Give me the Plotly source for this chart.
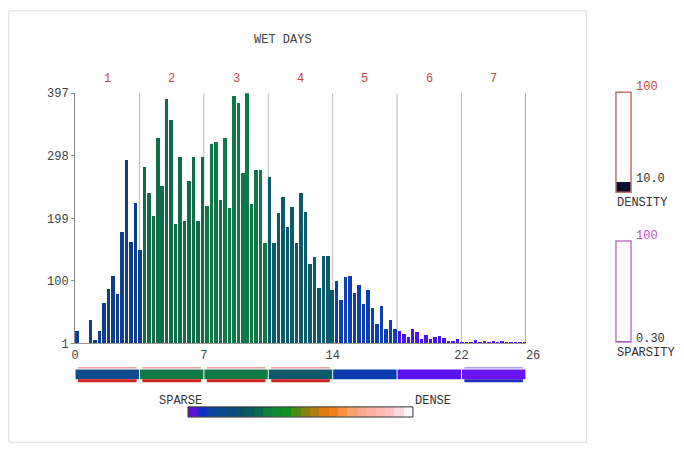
import plotly.graph_objects as go

# ---------------- data ----------------
title_text = "WET DAYS"
counts = [20, 0, 0, 38, 6, 20, 64, 87, 108, 79, 177, 291, 161, 223, 148,
          280, 238, 202, 325, 249, 387, 354, 190, 295, 195, 258, 296, 195, 295,
          218, 317, 320, 228, 325, 215, 392, 381, 271, 397, 222, 275, 275, 160,
          264, 159, 207, 232, 185, 217, 160, 238, 209, 127, 137, 88, 139, 139, 85,
          100, 70, 106, 108, 80, 93, 63, 85, 57, 31, 59, 24, 37, 23,
          20, 16, 10, 24, 19, 8, 14, 8, 10, 13, 9, 5, 5, 7,
          3.5, 2.5, 3.5, 5.5, 2, 4, 2.5, 4, 2.5, 4, 2, 2, 2, 2, 2]
region_sizes = [15, 14, 14, 15, 14, 14, 15]
region_labels = ["1", "2", "3", "4", "5", "6", "7"]
x_max = 26.0
bin_width = 0.258
y_tick_vals = [1, 100, 199, 298, 397]
x_tick_regions = [0, 2, 4, 6, 7]
region_colors = ["#0b3f8e", "#0e6d46", "#0f7849", "#0b5a6c", "#0d3fb0", "#4a14ec", "#5a14ee"]
strip_colors = ["#0e4c8c", "#127a44", "#127a44", "#0c5a6a", "#0a3bb0", "#5a12f0", "#6a12f0"]
strip_top_marks = ["#e8a0a0", "#e8a0a0", "#e8a0a0", "#e8a0a0", None, None, "#a8a0e8"]
strip_bottom_marks = ["#d42020", "#d42020", "#d42020", "#d42020", None, None, "#2828c8"]
scale_colors = ["#6010d0", "#1030c0", "#0a40a0", "#0a4890", "#0a4a80", "#0a5070",
                "#0a5a60", "#0a6a50", "#107a40", "#108a30", "#109020", "#508a10",
                "#888010", "#b08010", "#e07a10", "#f08020", "#f89040", "#f8a070",
                "#f8a890", "#ffb0a0", "#ffb8b0", "#ffc0c0", "#ffd8e0", "#fff4f8"]
density_value, density_max = 10.0, 100
sparsity_value, sparsity_max = 0.30, 100

# ---------------- layout helpers ----------------
W, H = 684, 458
def px(x):
    return x / W
def py(y):
    return 1 - y / H

FONT = "Liberation Mono"
n_regions = len(region_sizes)
region_w = x_max / n_regions
edges = [k * region_w for k in range(n_regions + 1)]

bar_region = []
for r, s in enumerate(region_sizes):
    bar_region += [r] * s
xs = [(i + 0.5) * bin_width for i in range(len(counts))]
colors = [region_colors[bar_region[i]] for i in range(len(counts))]

fig = go.Figure()
fig.add_trace(go.Bar(x=xs, y=counts, width=bin_width * 0.78,
                     marker=dict(color=colors, line=dict(width=0)),
                     hoverinfo="skip", showlegend=False))

# gradient scale
n = len(scale_colors)
cs = []
for i, c in enumerate(scale_colors):
    cs.append([i / n, c])
    cs.append([(i + 1) / n, c])
fig.add_trace(go.Heatmap(z=[list(range(n))], colorscale=cs, showscale=False,
                         xaxis="x2", yaxis="y2", hoverinfo="skip", zmin=-0.5, zmax=n - 0.5))

# gauges
fig.add_trace(go.Bar(x=[0], y=[density_value], width=1, marker=dict(color="#0a1030", line=dict(width=0)),
                     xaxis="x3", yaxis="y3", showlegend=False, hoverinfo="skip"))
fig.add_trace(go.Bar(x=[0], y=[sparsity_value], width=1, marker=dict(color="#0a1030", line=dict(width=0)),
                     xaxis="x4", yaxis="y4", showlegend=False, hoverinfo="skip"))

tick_vals = [edges[k] for k in x_tick_regions]
tick_text = [str(int(v)) for v in tick_vals]
tick_text[-1] = "\u00a0\u00a0" + tick_text[-1]

shapes = []
# outer frame
shapes.append(dict(type="rect", xref="paper", yref="paper", x0=px(5), x1=px(598), y0=py(450), y1=py(5),
                   line=dict(color="#dddddd", width=1)))
# region lines
for k in range(1, n_regions + 1):
    shapes.append(dict(type="line", xref="x", yref="y domain", x0=edges[k], x1=edges[k], y0=0, y1=1,
                       line=dict(color="#777777" if k == n_regions else "#bbbbbb", width=1), layer="below"))
# strip
ppx = x_max / 463.0
for r in range(n_regions):
    shapes.append(dict(type="rect", xref="x", yref="paper", x0=edges[r] + 0.5 * ppx, x1=edges[r + 1] - 0.5 * ppx,
                       y0=py(385), y1=py(375), fillcolor=strip_colors[r], line=dict(width=0)))
    if strip_top_marks[r]:
        shapes.append(dict(type="rect", xref="x", yref="paper", x0=edges[r] + 3 * ppx, x1=edges[r + 1] - 3 * ppx,
                           y0=py(374), y1=py(372.5), fillcolor=strip_top_marks[r], line=dict(width=0)))
    if strip_bottom_marks[r]:
        shapes.append(dict(type="rect", xref="x", yref="paper", x0=edges[r] + 3 * ppx, x1=edges[r + 1] - 3 * ppx,
                           y0=py(388), y1=py(385), fillcolor=strip_bottom_marks[r], line=dict(width=0)))
# gradient border
shapes.append(dict(type="rect", xref="x2 domain", yref="y2 domain", x0=0, x1=1, y0=0, y1=1,
                   line=dict(color="#333333", width=1)))
# gauge borders
shapes.append(dict(type="rect", xref="x3 domain", yref="y3 domain", x0=0, x1=1, y0=0, y1=1,
                   line=dict(color="#c07070", width=1.5)))
shapes.append(dict(type="rect", xref="x4 domain", yref="y4 domain", x0=0, x1=1, y0=0, y1=1,
                   line=dict(color="#d070d0", width=1.5)))

ann = []
def label(text, x, y, color="#333333", xanchor="left", xref="paper"):
    ann.append(dict(text=text, x=x, y=y, xref=xref, yref="paper", xanchor=xanchor, yanchor="middle",
                    showarrow=False, font=dict(family=FONT, size=12, color=color)))

label(title_text, px(287), py(35), "#444444", "center")
for r in range(n_regions):
    label(region_labels[r], edges[r] + region_w / 2, py(75), "#c84848", "center", "x")
label("SPARSE", px(157), py(407))
label("DENSE", px(420), py(407))
label(str(density_max), px(647), py(84), "#c84848")
label("%.1f" % density_value, px(647), py(178))
label("DENSITY", px(627), py(203.5))
label(str(sparsity_max), px(647), py(237.5), "#c050c0")
label("%.2f" % sparsity_value, px(647), py(343.5))
label("SPARSITY", px(627), py(357.5))

fig.update_layout(
    width=W, height=H, margin=dict(l=0, r=0, t=0, b=0),
    paper_bgcolor="white", plot_bgcolor="white", bargap=0, showlegend=False,
    xaxis=dict(domain=[px(73), px(536)], range=[0, x_max], tickvals=tick_vals, ticktext=tick_text,
               showgrid=False, zeroline=False, showline=True, linecolor="#999999", linewidth=1,
               ticks="", tickfont=dict(family=FONT, size=12, color="#444444")),
    yaxis=dict(domain=[py(348), py(90)], range=[1, 397], tickvals=y_tick_vals,
               showgrid=False, zeroline=False, showline=True, linecolor="#888888", linewidth=1,
               ticks="outside", ticklen=3, tickcolor="#888888",
               tickfont=dict(family=FONT, size=12, color="#444444")),
    xaxis2=dict(domain=[px(189), px(420)], range=[-0.5, n - 0.5], visible=False, anchor="y2"),
    yaxis2=dict(domain=[py(424), py(413.5)], range=[-0.5, 0.5], visible=False, anchor="x2"),
    xaxis3=dict(domain=[px(628.5), px(644)], range=[-0.5, 0.5], visible=False, anchor="y3"),
    yaxis3=dict(domain=[py(192), py(89)], range=[0, density_max], visible=False, anchor="x3"),
    xaxis4=dict(domain=[px(628.5), px(644)], range=[-0.5, 0.5], visible=False, anchor="y4"),
    yaxis4=dict(domain=[py(346.5), py(242.5)], range=[0, sparsity_max], visible=False, anchor="x4"),
    shapes=shapes, annotations=ann,
)

fig.write_html("out.html", config={"displayModeBar": False})
